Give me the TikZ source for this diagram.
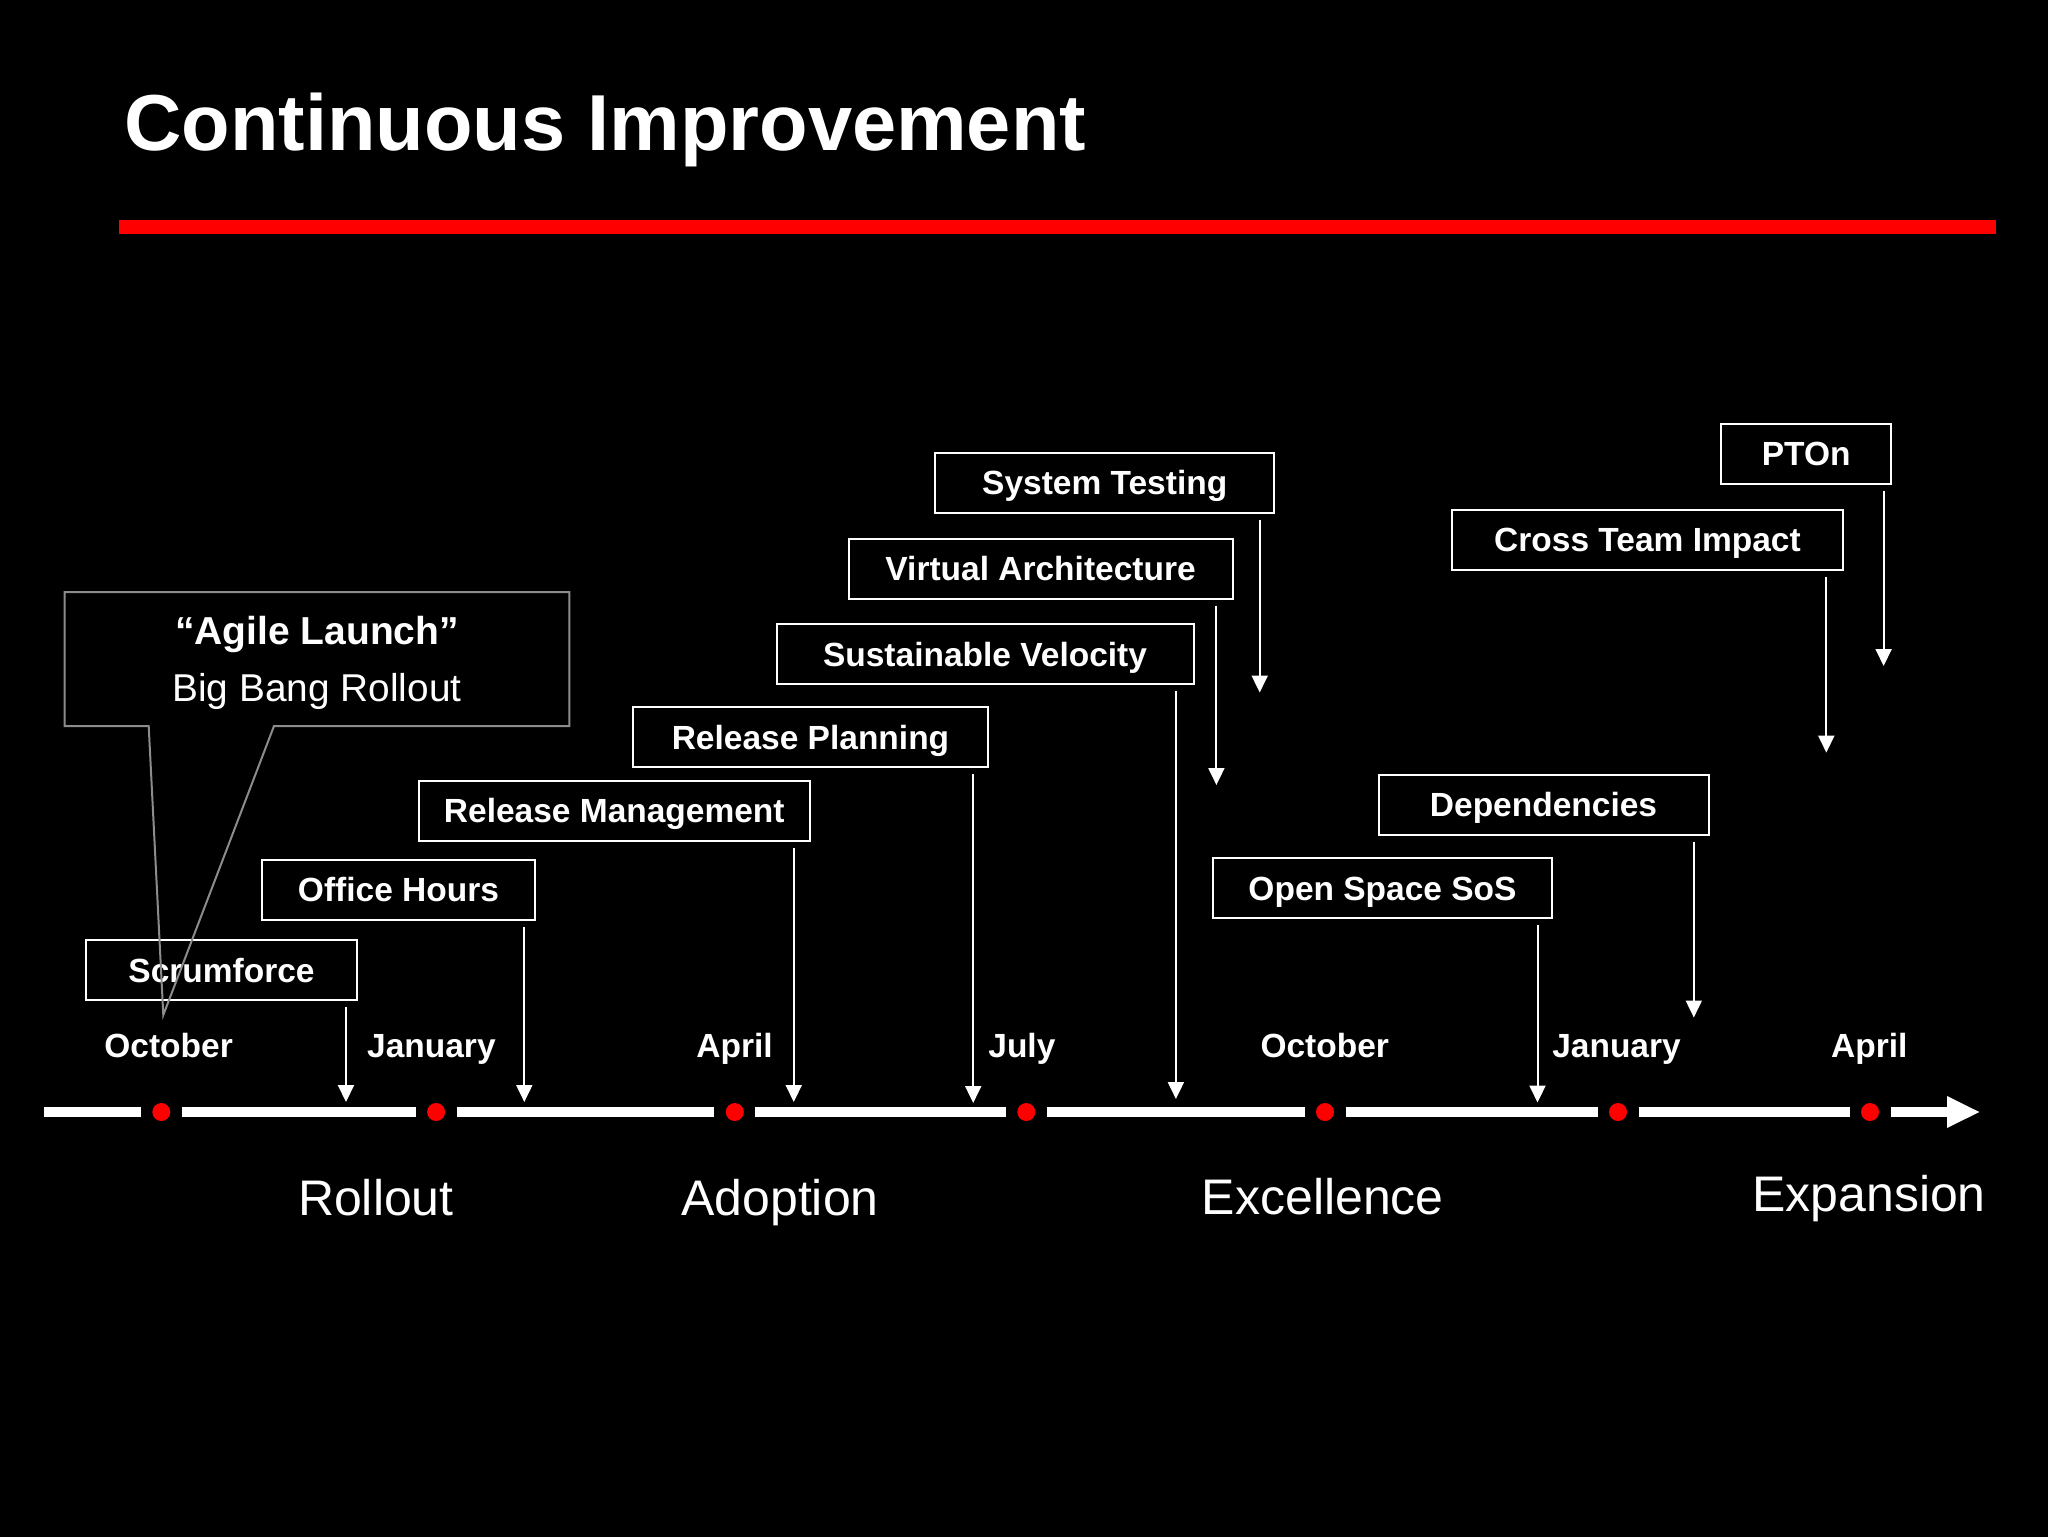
\documentclass[tikz,border=0pt]{standalone}
\usepackage{fontspec}
\setmainfont{Liberation Sans}
\usetikzlibrary{arrows.meta}
\definecolor{cgray}{RGB}{140,140,140}
\definecolor{tred}{RGB}{255,0,0}
\newcommand\titlefnt{\bfseries\fontsize{39.7pt}{47pt}\selectfont}
\newcommand\boxfnt{\bfseries\fontsize{16.75pt}{20pt}\selectfont}
\newcommand\phasefnt{\fontsize{25pt}{30pt}\selectfont}
\newcommand\callfnt{\fontsize{19.4pt}{23pt}\selectfont}
\newcommand\callbfnt{\bfseries\fontsize{19.5pt}{23pt}\selectfont}
\begin{document}
\begin{tikzpicture}[x=0.5pt,y=-0.5pt,
  box/.style={draw=white, line width=1pt, text=white, font=\boxfnt, inner sep=0pt,
    minimum height=30pt, text height=12pt, text depth=0pt},
  arr/.style={draw=white, line width=1pt, shorten <=3pt, -{Triangle[length=8.5pt,width=8pt]}},
  month/.style={text=white, font=\boxfnt, anchor=base, inner sep=0pt},
  phase/.style={text=white, font=\phasefnt, anchor=base, inner sep=0pt},
  dot/.style={circle, fill=tred, inner sep=0pt, minimum size=9pt},
  tl/.style={draw=white, line width=5pt},
  callline/.style={draw=cgray, line width=1pt, line join=miter}]
\useasboundingbox (0,0) rectangle (2048,1536);
\fill[black] (-20,-20) rectangle (2068,1556);

% title and red rule
\node[anchor=base west, inner sep=0pt, text=white, font=\titlefnt] (title) at (124,150.7) {Continuous Improvement};
\fill[tred] (119,220) rectangle (1996,234);

% timeline
\coordinate (tl0) at (43.5,1112);
\coordinate (tlE) at (1949,1112);
\node[dot] (d1) at (161.3,1112) {};
\node[dot] (d2) at (436.1,1112) {};
\node[dot] (d3) at (734.8,1112) {};
\node[dot] (d4) at (1026.3,1112) {};
\node[dot] (d5) at (1325,1112) {};
\node[dot] (d6) at (1618,1112) {};
\node[dot] (d7) at (1870,1112) {};
\draw[tl] (tl0) -- ([xshift=-10.25pt]d1.center);
\draw[tl] ([xshift=10.25pt]d1.center) -- ([xshift=-10.25pt]d2.center);
\draw[tl] ([xshift=10.25pt]d2.center) -- ([xshift=-10.25pt]d3.center);
\draw[tl] ([xshift=10.25pt]d3.center) -- ([xshift=-10.25pt]d4.center);
\draw[tl] ([xshift=10.25pt]d4.center) -- ([xshift=-10.25pt]d5.center);
\draw[tl] ([xshift=10.25pt]d5.center) -- ([xshift=-10.25pt]d6.center);
\draw[tl] ([xshift=10.25pt]d6.center) -- ([xshift=-10.25pt]d7.center);
\draw[tl] ([xshift=10.25pt]d7.center) -- (tlE);
\fill[white] (1947,1096) -- (1979.3,1112) -- (1947,1128) -- cycle;

% month labels
\node[month] (m1) at (168.6,1057.5) {October};
\node[month] (m2) at (431.4,1057.5) {January};
\node[month] (m3) at (734.6,1057.5) {April};
\node[month] (m4) at (1021.9,1057.5) {July};
\node[month] (m5) at (1324.7,1057.5) {October};
\node[month] (m6) at (1616.5,1057.5) {January};
\node[month] (m7) at (1869.3,1057.5) {April};

% phase labels
\node[phase] (p1) at (375.9,1215) {Rollout};
\node[phase] (p2) at (780,1215) {Adoption};
\node[phase] (p3) at (1322.8,1214) {Excellence};
\node[phase] (p4) at (1869,1211) {Expansion};

% boxes
\node[box, minimum width=135.5pt] (sf)  at (221.5,970)   {Scrumforce};
\node[box, minimum width=136.5pt] (oh)  at (398.5,889.5) {Office Hours};
\node[box, minimum width=195.25pt] (rm) at (614.3,810.5) {Release Management};
\node[box, minimum width=177.5pt] (rp)  at (810.5,737)   {Release Planning};
\node[box, minimum width=208.5pt] (sv)  at (985,654.3)   {Sustainable Velocity};
\node[box, minimum width=192pt] (va)    at (1040.6,568.6) {Virtual Architecture};
\node[box, minimum width=169.25pt] (st) at (1104.7,482.7) {System Testing};
\node[box, minimum width=84.8pt] (pt)   at (1806.2,453.5) {PTOn};
\node[box, minimum width=195.5pt] (ct)  at (1647.5,539.6) {Cross Team Impact};
\node[box, minimum width=165pt] (dp)    at (1543.5,804.5) {Dependencies};
\node[box, minimum width=169.5pt] (os)  at (1382.5,888.3) {Open Space SoS};

% arrow tips
\coordinate (sfT) at (346,1102);
\coordinate (ohT) at (524.3,1102);
\coordinate (rmT) at (793.75,1102);
\coordinate (rpT) at (973.2,1103);
\coordinate (svT) at (1175.9,1099);
\coordinate (vaT) at (1216.4,785);
\coordinate (stT) at (1259.7,692.5);
\coordinate (ptT) at (1883.6,666);
\coordinate (ctT) at (1826.3,752.6);
\coordinate (dpT) at (1693.8,1017.5);
\coordinate (osT) at (1537.5,1102.5);
\draw[arr] (sfT |- sf.south) -- (sfT);
\draw[arr] (ohT |- oh.south) -- (ohT);
\draw[arr] (rmT |- rm.south) -- (rmT);
\draw[arr] (rpT |- rp.south) -- (rpT);
\draw[arr] (svT |- sv.south) -- (svT);
\draw[arr] (vaT |- va.south) -- (vaT);
\draw[arr] (stT |- st.south) -- (stT);
\draw[arr] (ptT |- pt.south) -- (ptT);
\draw[arr] (ctT |- ct.south) -- (ctT);
\draw[arr] (dpT |- dp.south) -- (dpT);
\draw[arr] (osT |- os.south) -- (osT);

% callout
\coordinate (calltip) at (163.3,1015);
\draw[callline] (64.5,592) -- (569.4,592) -- (569.4,726) -- (274,726) -- (calltip) -- (148.7,726) -- (64.5,726) -- cycle;
\node[anchor=base, inner sep=0pt, text=white, font=\callbfnt] (cl1) at (317,644.6) {“Agile Launch”};
\node[anchor=base, inner sep=0pt, text=white, font=\callfnt] (cl2) at (317,701) {Big Bang Rollout};
\end{tikzpicture}
\end{document}
